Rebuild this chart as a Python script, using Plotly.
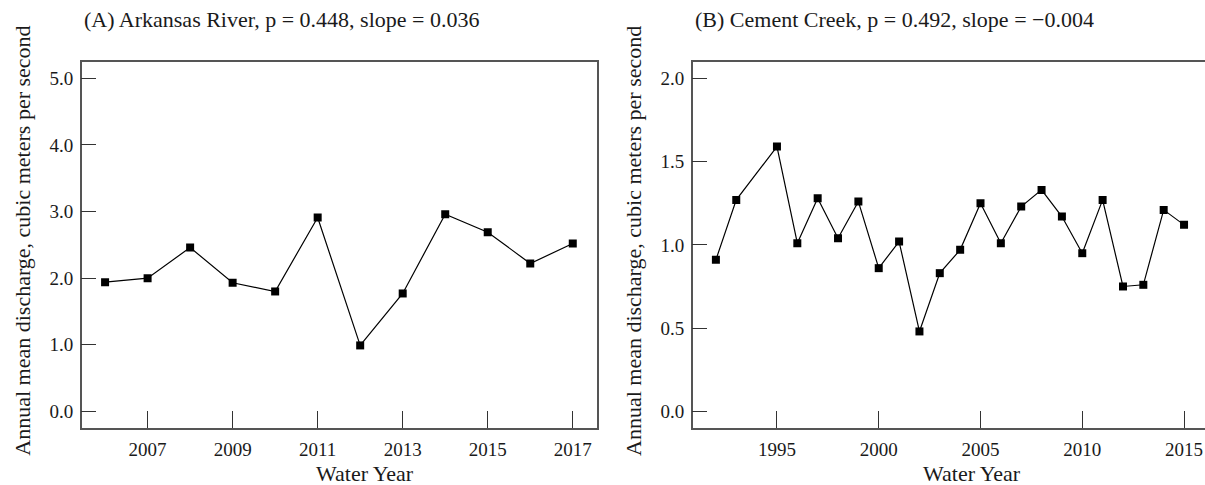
import plotly.graph_objects as go

# Arkansas River annual mean discharge (m^3/s)
ark_years = [2006, 2007, 2008, 2009, 2010, 2011, 2012, 2013, 2014, 2015, 2016, 2017]
ark_q = [1.94, 2.00, 2.46, 1.93, 1.80, 2.91, 0.99, 1.77, 2.96, 2.69, 2.22, 2.52]

# Cement Creek annual mean discharge (m^3/s)
cem_years = [1992, 1993, 1995, 1996, 1997, 1998, 1999, 2000, 2001, 2002, 2003, 2004,
             2005, 2006, 2007, 2008, 2009, 2010, 2011, 2012, 2013, 2014, 2015]
cem_q = [0.91, 1.27, 1.59, 1.01, 1.28, 1.04, 1.26, 0.86, 1.02, 0.48, 0.83, 0.97,
         1.25, 1.01, 1.23, 1.33, 1.17, 0.95, 1.27, 0.75, 0.76, 1.21, 1.12]

ark_yticks = [0, 1, 2, 3, 4, 5]
ark_xticks = [2007, 2009, 2011, 2013, 2015, 2017]
cem_yticks = [0, 0.5, 1.0, 1.5, 2.0]
cem_xticks = [1995, 2000, 2005, 2010, 2015]

titles = ["(A) Arkansas River, p = 0.448, slope = 0.036",
          "(B) Cement Creek, p = 0.492, slope = \u22120.004"]
ylabel = "Annual mean discharge, cubic meters per second"
xlabel = "Water Year"

W, H = 1205, 485
FONT = "Liberation Serif"
INK = "#1a1a1a"

fig = go.Figure()

marker = dict(symbol="square", size=8, color="black")
line = dict(color="black", width=1.2)

fig.add_trace(go.Scatter(x=ark_years, y=ark_q, mode="lines+markers",
                         marker=marker, line=line, xaxis="x", yaxis="y",
                         showlegend=False))
fig.add_trace(go.Scatter(x=cem_years, y=cem_q, mode="lines+markers",
                         marker=marker, line=line, xaxis="x2", yaxis="y2",
                         showlegend=False))

ydom = [(H - 428) / H, (H - 61.7) / H]
xdom1 = [81.7 / W, 597 / W]
xdom2 = [692.7 / W, 1.0]

common_axis = dict(showgrid=False, zeroline=False, showline=True,
                   linecolor="#555555", linewidth=1.5,
                   ticks="inside", tickcolor="#333333", tickwidth=1,
                   tickfont=dict(family=FONT, size=19, color=INK))

fig.update_layout(
    width=W, height=H,
    margin=dict(l=0, r=0, t=0, b=0),
    paper_bgcolor="white", plot_bgcolor="white",
    font=dict(family=FONT, color=INK),
    xaxis=dict(domain=xdom1, range=[2005.45, 2017.57], tickvals=ark_xticks,
               ticklen=17, mirror=True, anchor="y", ticklabelstandoff=3,
               **common_axis),
    yaxis=dict(domain=ydom, range=[-0.25, 5.25], tickvals=ark_yticks,
               tickformat=".1f", ticklen=15, mirror=True, anchor="x",
               ticklabelstandoff=3, **common_axis),
    xaxis2=dict(domain=xdom2, range=[1990.86, 2016.03], tickvals=cem_xticks,
                ticklen=17, mirror=True, anchor="y2", ticklabelstandoff=3,
                **common_axis),
    yaxis2=dict(domain=ydom, range=[-0.1, 2.1], tickvals=cem_yticks,
                tickformat=".1f", ticklen=15, mirror=False, anchor="x2",
                ticklabelstandoff=3, **common_axis),
)

ann = []
for x0, t in zip([81.7, 692.7], titles):
    ann.append(dict(text=t, x=x0 / W, y=(H - 20) / H, xref="paper", yref="paper",
                    xanchor="left", yanchor="middle", showarrow=False,
                    font=dict(family=FONT, size=22, color=INK)))
for xc in [21.7, 633]:
    ann.append(dict(text=ylabel, x=xc / W, y=(H - 241) / H, xref="paper",
                    yref="paper", xanchor="center", yanchor="middle",
                    textangle=-90, showarrow=False,
                    font=dict(family=FONT, size=22, color=INK)))
for xc in [365, 972]:
    ann.append(dict(text=xlabel, x=xc / W, y=(H - 473) / H, xref="paper",
                    yref="paper", xanchor="center", yanchor="middle",
                    showarrow=False, font=dict(family=FONT, size=22, color=INK)))
fig.update_layout(annotations=ann)

fig.write_html("out.html")
